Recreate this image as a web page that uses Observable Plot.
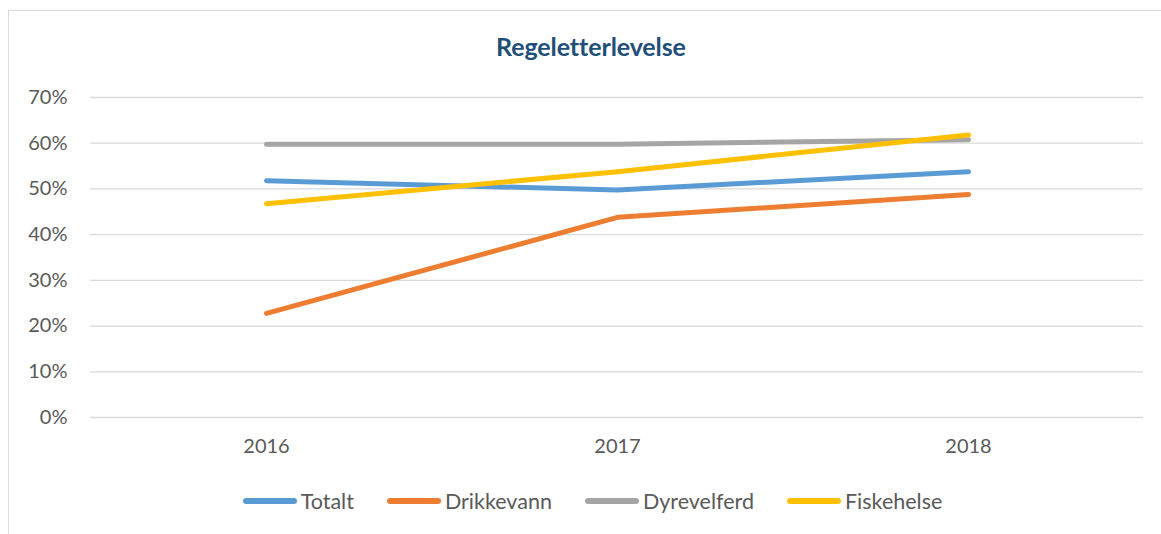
<!DOCTYPE html>
<html>
<head>
<meta charset="utf-8">
<script src="https://cdn.jsdelivr.net/npm/d3@7"></script>
<script src="https://cdn.jsdelivr.net/npm/@observablehq/plot@0.6"></script>
<style>
  html, body { margin: 0; padding: 0; background: #fff; }
  body { width: 1161px; height: 534px; overflow: hidden; position: relative; font-family: Lato, "Open Sans", sans-serif; }
  #frame { position: absolute; left: 8px; top: 10px; width: 1160px; height: 540px; border: 1px solid #d9d9d9; box-sizing: border-box; }
  #title { position: absolute; left: 0; top: 31px; width: 1182px; text-align: center; font-size: 25px; font-weight: bold; color: #1f4e79; letter-spacing: -0.1px; }
  #chart { position: absolute; left: 0; top: 80px; }
  #legend { position: absolute; left: 0; top: 488px; width: 1161px; display: flex; justify-content: center; gap: 33px; padding-left: 24px; box-sizing: border-box; font-size: 21.5px; color: #595959; }
  .item { display: flex; align-items: center; gap: 4px; }
  .sw { width: 54px; height: 6px; border-radius: 3px; }
</style>
</head>
<body>
<div id="frame"></div>
<div id="title">Regeletterlevelse</div>
<div id="chart"></div>
<div id="legend"></div>
<script>
const years = ["2016", "2017", "2018"];
const seriesNames = ["Totalt", "Drikkevann", "Dyrevelferd", "Fiskehelse"];
const colors = ["#5B9BD5", "#ED7D31", "#A5A5A5", "#FFC000"];
const totalt = [0.52, 0.50, 0.54];
const drikkevann = [0.23, 0.44, 0.49];
const dyrevelferd = [0.60, 0.60, 0.61];
const fiskehelse = [0.47, 0.54, 0.62];
const yTicks = [0, 0.1, 0.2, 0.3, 0.4, 0.5, 0.6, 0.7];

const valuesBySeries = [totalt, drikkevann, dyrevelferd, fiskehelse];
const data = [];
seriesNames.forEach((s, i) => years.forEach((y, j) => data.push({series: s, year: y, value: valuesBySeries[i][j]})));

const chart = Plot.plot({
  width: 1161,
  height: 390,
  marginLeft: 90,
  marginRight: 18,
  marginTop: 17,
  marginBottom: 53,
  style: { fontFamily: "Lato, 'Open Sans', sans-serif", fontSize: "20px", color: "#595959", background: "transparent" },
  x: { type: "point", domain: years, padding: 0.5, label: null, tickSize: 0, tickPadding: 21 },
  y: { domain: [0, 0.7], ticks: yTicks, tickFormat: d => Math.round(d * 100) + "%", label: null, tickSize: 0, tickPadding: 23 },
  color: { domain: seriesNames, range: colors },
  marks: [
    Plot.ruleY(yTicks, { stroke: "#d9d9d9", strokeWidth: 1.3 }),
    Plot.axisY({ ticks: yTicks, tickFormat: d => Math.round(d * 100) + "%", tickSize: 0, tickPadding: 23, label: null, fill: "#595959" }),
    Plot.axisX({ tickSize: 0, tickPadding: 21, label: null, fill: "#595959" }),
    Plot.line(data, { x: "year", y: "value", z: "series", stroke: "series", strokeWidth: 5, strokeLinecap: "round", strokeLinejoin: "round", dy: 1 })
  ]
});
document.getElementById("chart").appendChild(chart);

const legend = document.getElementById("legend");
seriesNames.forEach((s, i) => {
  const item = document.createElement("div");
  item.className = "item";
  const sw = document.createElement("div");
  sw.className = "sw";
  sw.style.background = colors[i];
  const t = document.createElement("span");
  t.textContent = s;
  item.appendChild(sw);
  item.appendChild(t);
  legend.appendChild(item);
});
</script>
</body>
</html>
